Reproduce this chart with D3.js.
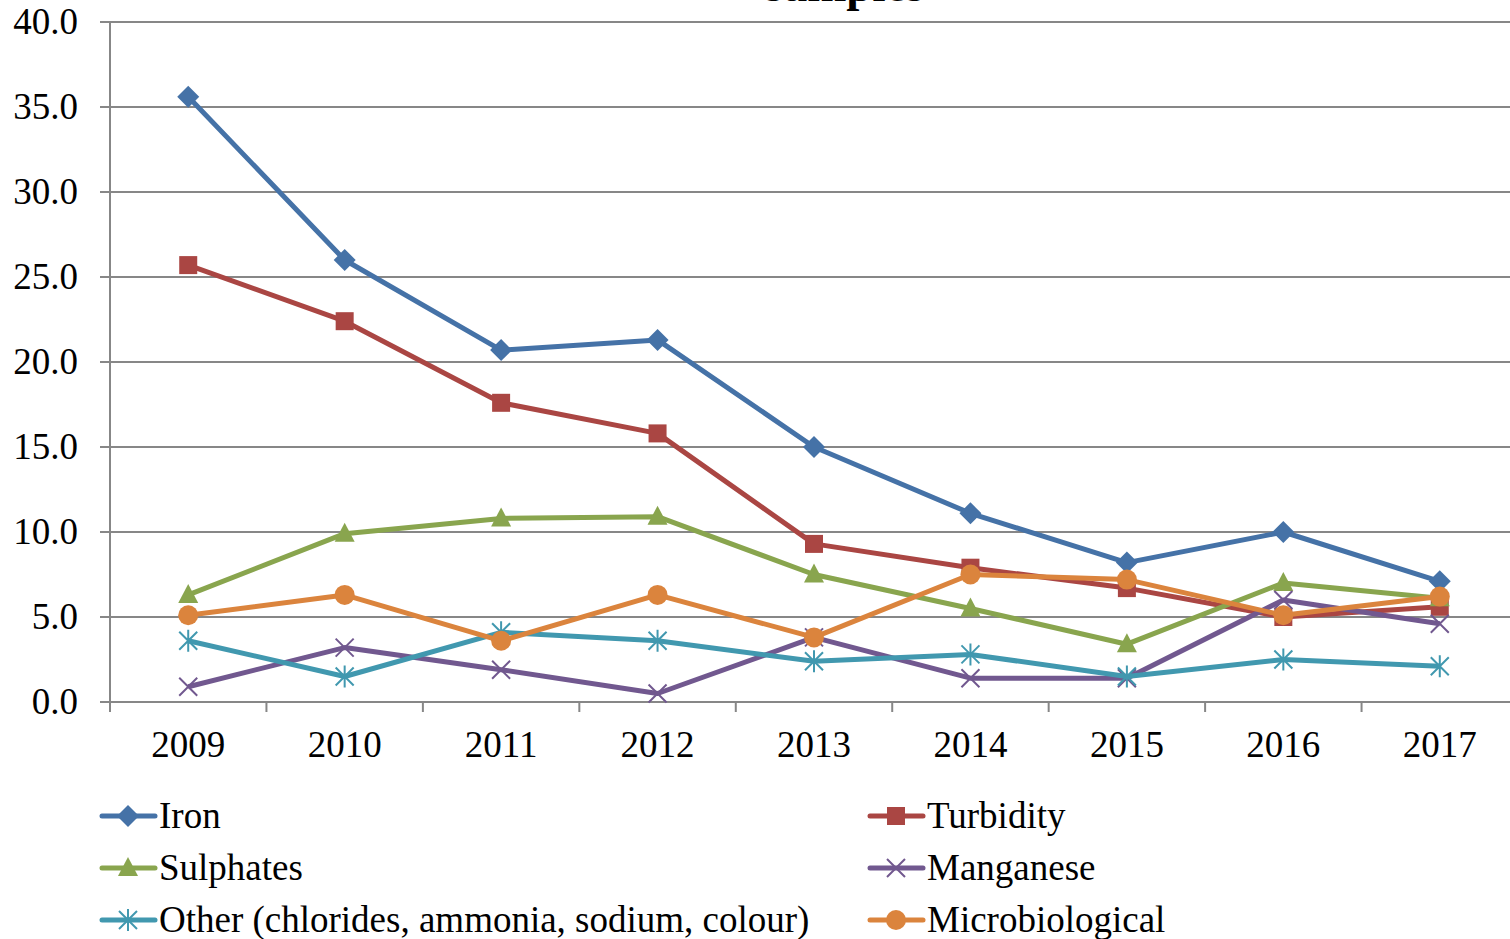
<!DOCTYPE html>
<html>
<head>
<meta charset="utf-8">
<script src="https://cdn.jsdelivr.net/npm/d3@7"></script>
<style>
  html, body { margin: 0; padding: 0; background: #fff; }
  svg { display: block; }
</style>
</head>
<body>
<div id="chart"></div>
<script>
// -- Data ---------------------------------------------------------
var years = ["2009", "2010", "2011", "2012", "2013", "2014", "2015", "2016", "2017"];
var yTicks = [0, 5, 10, 15, 20, 25, 30, 35, 40];

var iron            = [35.6, 26.0, 20.7, 21.3, 15.0, 11.1, 8.2, 10.0, 7.1];
var turbidity       = [25.7, 22.4, 17.6, 15.8, 9.3, 7.9, 6.7, 5.0, 5.6];
var sulphates       = [6.3, 9.9, 10.8, 10.9, 7.5, 5.5, 3.4, 7.0, 6.1];
var manganese       = [0.9, 3.2, 1.9, 0.5, 3.8, 1.4, 1.4, 6.0, 4.6];
var other           = [3.6, 1.5, 4.1, 3.6, 2.4, 2.8, 1.5, 2.5, 2.1];
var microbiological = [5.1, 6.3, 3.6, 6.3, 3.8, 7.5, 7.2, 5.1, 6.2];

var seriesNames = ["Iron", "Turbidity", "Sulphates", "Manganese",
                   "Other (chlorides, ammonia, sodium, colour)", "Microbiological"];
var seriesValues = [iron, turbidity, sulphates, manganese, other, microbiological];
var seriesColors = ["#4572A7", "#AA4643", "#89A54E", "#71588F", "#4198AF", "#DB843D"];
var seriesMarkers = ["diamond", "square", "triangle", "cross", "star", "circle"];

// -- Layout -------------------------------------------------------
var W = 1510, H = 939;
var margin = { top: 22, left: 110, right: -8, bottom: 237 };
var innerW = W - margin.left - margin.right;
var innerH = H - margin.top - margin.bottom;
var FONT = "'Liberation Serif', 'Times New Roman', serif";
var FS = "37px";
var GRID = "#878787";

var svg = d3.select("#chart").append("svg")
  .attr("width", W).attr("height", H);

// Title (only its bottom edge shows at the top of the original)
svg.append("text")
  .attr("x", 845).attr("y", 0.5)
  .attr("text-anchor", "middle")
  .attr("font-family", FONT)
  .attr("font-size", "47px")
  .attr("font-weight", "bold")
  .text("samples");

var g = svg.append("g")
  .attr("transform", "translate(" + margin.left + "," + margin.top + ")");

var x = d3.scaleBand().domain(years).range([0, innerW]).padding(0);
var y = d3.scaleLinear().domain([0, 40]).range([innerH, 0]);

// Gridlines
g.append("g").selectAll("line")
  .data(yTicks)
  .join("line")
    .attr("x1", -10).attr("x2", innerW)
    .attr("y1", function (d) { return y(d); })
    .attr("y2", function (d) { return y(d); })
    .attr("stroke", GRID).attr("stroke-width", 2);

// Y axis line
g.append("line")
  .attr("x1", 0).attr("x2", 0).attr("y1", 0).attr("y2", innerH)
  .attr("stroke", GRID).attr("stroke-width", 2);

// Y labels
g.append("g").selectAll("text")
  .data(yTicks)
  .join("text")
    .attr("x", -32)
    .attr("y", function (d) { return y(d); })
    .attr("dy", "0.33em")
    .attr("text-anchor", "end")
    .attr("font-family", FONT)
    .attr("font-size", FS)
    .text(function (d) { return d.toFixed(1); });

// X tick marks at category boundaries
var bounds = years.map(function (d) { return x(d); }).concat([innerW]);
g.append("g").selectAll("line")
  .data(bounds)
  .join("line")
    .attr("x1", function (d) { return d; }).attr("x2", function (d) { return d; })
    .attr("y1", innerH).attr("y2", innerH + 10)
    .attr("stroke", GRID).attr("stroke-width", 2);

// X labels
g.append("g").selectAll("text")
  .data(years)
  .join("text")
    .attr("x", function (d) { return x(d) + x.bandwidth() / 2; })
    .attr("y", innerH + 55)
    .attr("text-anchor", "middle")
    .attr("font-family", FONT)
    .attr("font-size", FS)
    .text(function (d) { return d; });

// -- Markers ------------------------------------------------------
function drawMarker(sel, type, color) {
  if (type === "diamond") {
    sel.append("path").attr("d", "M0,-11L11,0L0,11L-11,0Z").attr("fill", color);
  } else if (type === "square") {
    sel.append("rect").attr("x", -9).attr("y", -9).attr("width", 18).attr("height", 18).attr("fill", color);
  } else if (type === "triangle") {
    sel.append("path").attr("d", "M0,-11L10,8L-10,8Z").attr("fill", color);
  } else if (type === "circle") {
    sel.append("circle").attr("r", 10).attr("fill", color);
  } else if (type === "cross") {
    sel.append("path").attr("d", "M-9,-9L9,9M-9,9L9,-9")
      .attr("stroke", color).attr("stroke-width", 2).attr("fill", "none");
  } else if (type === "star") {
    sel.append("path").attr("d", "M-9,-9L9,9M-9,9L9,-9M0,-11L0,11")
      .attr("stroke", color).attr("stroke-width", 2).attr("fill", "none");
  }
}

var line = d3.line()
  .x(function (d, i) { return x(years[i]) + x.bandwidth() / 2; })
  .y(function (d) { return y(d); });

seriesValues.forEach(function (vals, si) {
  var color = seriesColors[si];
  g.append("path")
    .datum(vals)
    .attr("d", line)
    .attr("fill", "none")
    .attr("stroke", color)
    .attr("stroke-width", 5)
    .attr("stroke-linejoin", "round");
  vals.forEach(function (v, i) {
    var m = g.append("g")
      .attr("transform", "translate(" + (x(years[i]) + x.bandwidth() / 2) + "," + y(v) + ")");
    drawMarker(m, seriesMarkers[si], color);
  });
});

// -- Legend -------------------------------------------------------
var legendCols = [100, 868];
var legendRows = [816, 868, 920];
seriesNames.forEach(function (name, i) {
  var lx = legendCols[i % 2];
  var ly = legendRows[Math.floor(i / 2)];
  var item = svg.append("g").attr("transform", "translate(" + lx + "," + ly + ")");
  item.append("line")
    .attr("x1", 2).attr("x2", 55).attr("y1", 0).attr("y2", 0)
    .attr("stroke", seriesColors[i]).attr("stroke-width", 5)
    .attr("stroke-linecap", "round");
  var m = item.append("g").attr("transform", "translate(28,0)");
  drawMarker(m, seriesMarkers[i], seriesColors[i]);
  item.append("text")
    .attr("x", 59).attr("y", 0).attr("dy", "0.33em")
    .attr("font-family", FONT)
    .attr("font-size", FS)
    .text(name);
});
</script>
</body>
</html>
